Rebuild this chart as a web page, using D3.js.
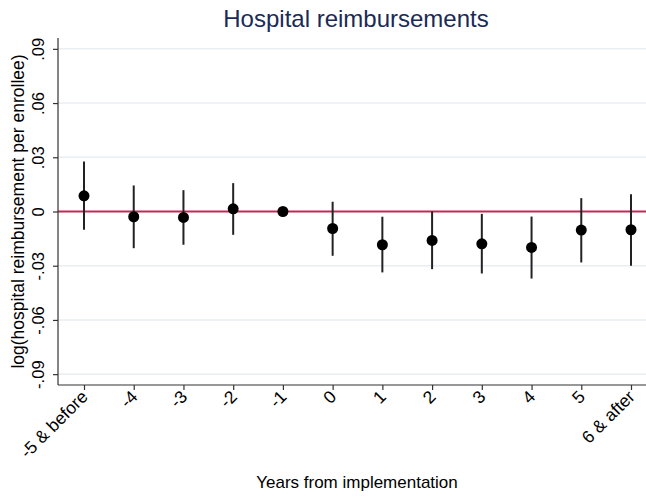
<!DOCTYPE html>
<html>
<head>
<meta charset="utf-8">
<script src="https://cdn.jsdelivr.net/npm/d3@7"></script>
<style>
  body { margin: 0; background: #fff; }
  text { font-family: "Liberation Sans", Arial, sans-serif; }
</style>
</head>
<body>
<svg id="chart" width="646" height="497"></svg>
<script>
const categories = ["-5 & before", "-4", "-3", "-2", "-1", "0", "1", "2", "3", "4", "5", "6 & after"];
const estimates = [0.0087, -0.0029, -0.0033, 0.0015, 0.0, -0.0094, -0.0184, -0.0160, -0.0179, -0.0199, -0.0103, -0.0101];
const ciLower = [-0.0101, -0.0203, -0.0184, -0.0129, 0.0, -0.0245, -0.0337, -0.0319, -0.0343, -0.0371, -0.0282, -0.0300];
const ciUpper = [0.0277, 0.0144, 0.0118, 0.0157, 0.0, 0.0054, -0.0029, 0.0000, -0.0013, -0.0028, 0.0074, 0.0096];
const yTicks = [-0.09, -0.06, -0.03, 0, 0.03, 0.06, 0.09];
const yTickLabels = ["-.09", "-.06", "-.03", "0", ".03", ".06", ".09"];

const svg = d3.select("#chart");
const mLeft = 58, mRight = 646, mTop = 38, mBottom = 385;

const x = d3.scalePoint().domain(categories).range([84, 631]);
const y = d3.scaleLinear().domain([-0.096, 0.096]).range([mBottom, mTop]);

// gridlines
svg.append("g").selectAll("line").data(yTicks.filter(d => d !== 0)).join("line")
  .attr("x1", mLeft).attr("x2", mRight)
  .attr("y1", d => y(d)).attr("y2", d => y(d))
  .attr("stroke", "#e8eef2").attr("stroke-width", 1.5);

// zero line
svg.append("line")
  .attr("x1", mLeft).attr("x2", mRight)
  .attr("y1", y(0)).attr("y2", y(0))
  .attr("stroke", "#c22a55").attr("stroke-width", 2);

// y axis
const yAxis = d3.axisLeft(y).tickValues(yTicks).tickSize(5)
  .tickFormat((d, i) => yTickLabels[i]);
const gy = svg.append("g").attr("transform", `translate(${mLeft},0)`).call(yAxis);
gy.select(".domain").attr("d", `M0,${mTop}V${mBottom}`).attr("stroke", "#333").attr("stroke-width", 1.2);
gy.selectAll(".tick line").attr("stroke", "#333").attr("stroke-width", 1.2);
gy.selectAll(".tick text")
  .attr("transform", "rotate(-90)")
  .attr("x", 0).attr("y", -14)
  .attr("dy", 0)
  .attr("text-anchor", "middle")
  .attr("font-size", 16.5).attr("fill", "#000")
  .attr("font-family", "Liberation Sans, Arial, sans-serif");

// x axis
const xAxis = d3.axisBottom(x).tickSize(5);
const gx = svg.append("g").attr("transform", `translate(0,${mBottom})`).call(xAxis);
gx.select(".domain").attr("d", `M${mLeft},0H${mRight}`).attr("stroke", "#333").attr("stroke-width", 1.2);
gx.selectAll(".tick line").attr("stroke", "#333").attr("stroke-width", 1.2);
gx.selectAll(".tick text")
  .attr("transform", "rotate(-45)")
  .attr("x", -6).attr("y", 6).attr("dy", "0.35em")
  .attr("text-anchor", "end")
  .attr("font-size", 17.5).attr("fill", "#000")
  .attr("font-family", "Liberation Sans, Arial, sans-serif");

// error bars
svg.append("g").selectAll("line").data(categories).join("line")
  .attr("x1", d => x(d)).attr("x2", d => x(d))
  .attr("y1", (d, i) => y(ciLower[i])).attr("y2", (d, i) => y(ciUpper[i]))
  .attr("stroke", "#222").attr("stroke-width", 2);

// points
svg.append("g").selectAll("circle").data(categories).join("circle")
  .attr("cx", d => x(d)).attr("cy", (d, i) => y(estimates[i]))
  .attr("r", 5.5).attr("fill", "#000");

// title
svg.append("text").attr("x", 356).attr("y", 27).attr("text-anchor", "middle")
  .attr("font-size", 24).attr("fill", "#1a2a57").text("Hospital reimbursements");

// axis titles
svg.append("text").attr("x", 357).attr("y", 488).attr("text-anchor", "middle")
  .attr("font-size", 17).attr("fill", "#000").text("Years from implementation");

svg.append("text").attr("transform", `translate(24,${(mTop + mBottom) / 2}) rotate(-90)`)
  .attr("text-anchor", "middle")
  .attr("font-size", 17.5).attr("fill", "#000").text("log(hospital reimbursement per enrollee)");
</script>
</body>
</html>
